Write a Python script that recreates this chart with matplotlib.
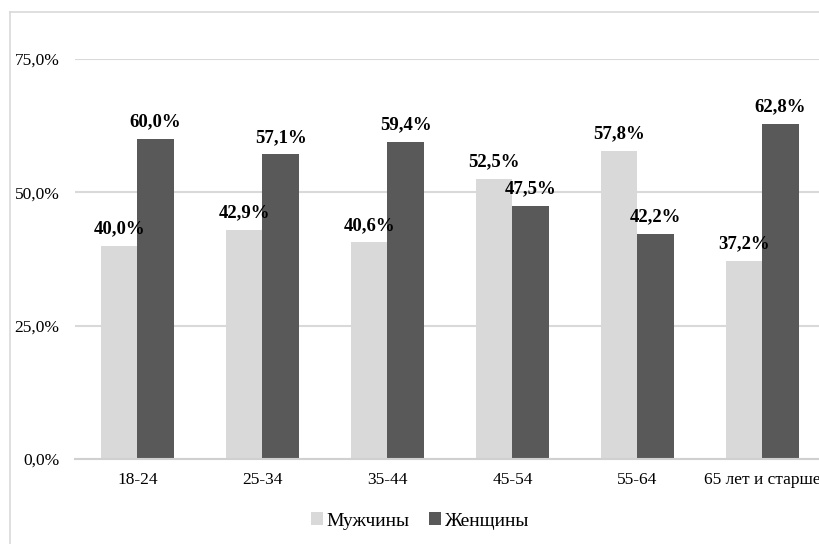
import numpy as np
import matplotlib.pyplot as plt
from matplotlib.lines import Line2D

# доли мужчин и женщин по возрастным группам, %
groups = ['18-24', '25-34', '35-44', '45-54', '55-64', '65 лет и старше']
men = [40.0, 42.9, 40.6, 52.5, 57.8, 37.2]
women = [60.0, 57.1, 59.4, 47.5, 42.2, 62.8]
yticks = [0, 25, 50, 75]

plt.rcParams['font.family'] = ['Liberation Serif', 'DejaVu Serif']

fig = plt.figure(figsize=(8.2, 5.44), dpi=100)
W, H = 820, 544
# область построения чуть шире рисунка, последняя группа обрезана справа
ax = fig.add_axes([75 / W, (H - 459) / H, 750 / W, 400 / H])

x = np.arange(len(groups))
w = 0.29
light, dark = '#d9d9d9', '#595959'
b1 = ax.bar(x - w / 2, men, w, color=light, label='Мужчины', zorder=2)
b2 = ax.bar(x + w / 2, women, w, color=dark, label='Женщины', zorder=2)

fmt = lambda v: f'{v:.1f}%'.replace('.', ',')
for bars, vals in ((b1, men), (b2, women)):
    for r, v in zip(bars, vals):
        ax.text(r.get_x() + r.get_width() / 2, v + 1.6, fmt(v), ha='center', va='bottom',
                fontsize=13.5, fontweight='bold', color='black', zorder=3)

ax.set_xlim(-0.5, len(groups) - 0.5)
ax.set_ylim(0, 75)
ax.set_yticks(yticks)
ax.set_yticklabels([fmt(v) for v in yticks], fontsize=12.5)
ax.set_xticks(x)
ax.set_xticklabels(groups, fontsize=12.5)
ax.tick_params(length=0)
ax.tick_params(axis='y', pad=11)
ax.tick_params(axis='x', pad=9)
ax.grid(axis='y', color='#d9d9d9', linewidth=1.5, zorder=0)
for s in ['top', 'right', 'left']:
    ax.spines[s].set_visible(False)
ax.spines['bottom'].set_color('#d0d0d0')
ax.spines['bottom'].set_linewidth(1.5)

fig.legend(handles=[b1, b2], loc='center', bbox_to_anchor=(420 / W, 1 - 521 / H), ncol=2,
           frameon=False, fontsize=14, handlelength=0.6, handleheight=0.6,
           handletextpad=0.2, columnspacing=1.0)

# рамка диаграммы
fig.add_artist(Line2D([10.5 / W, 10.5 / W], [0, 1 - 12 / H], color='#d9d9d9', lw=1.2))
fig.add_artist(Line2D([10.5 / W, 1], [1 - 12 / H, 1 - 12 / H], color='#d9d9d9', lw=1.2))

fig.savefig('out.png', dpi=100)
